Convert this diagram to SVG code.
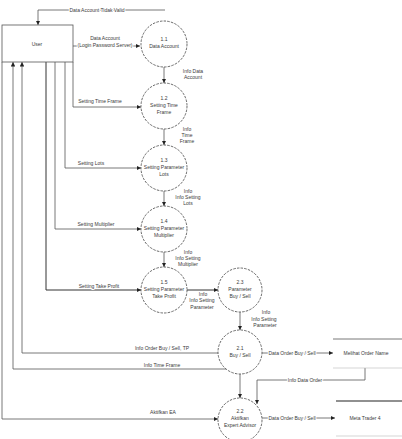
<svg xmlns="http://www.w3.org/2000/svg" width="402" height="439" viewBox="0 0 402 439">
<defs>
<marker id="ah" viewBox="0 0 10 10" refX="10" refY="5" markerWidth="4.5" markerHeight="4.5" orient="auto" markerUnits="userSpaceOnUse">
<path d="M0,0 L10,5 L0,10 z" fill="#222"/>
</marker>
<style>
text{font-family:"Liberation Sans",Arial,sans-serif;fill:#3a3a3a;}
.lbl{font-size:5px;text-anchor:middle;paint-order:stroke;stroke:#fff;stroke-width:2px;stroke-linejoin:round;}
.pt{font-size:5px;text-anchor:middle;}
.proc{fill:#fff;stroke:#444;stroke-width:0.8;stroke-dasharray:2.5 1.2;}
.ln{fill:none;stroke:#555;stroke-width:0.8;}
.st{stroke:#555;stroke-width:0.8;}
</style>
</defs>
<rect width="402" height="439" fill="#fff"/>
<g id="connectors">
<polyline class="ln" points="165,10 38,10 38,25" marker-end="url(#ah)"/>
<line class="ln" x1="73" y1="46" x2="140" y2="46" marker-end="url(#ah)"/>
<polyline class="ln" points="73,62 73,107 141,107" marker-end="url(#ah)"/>
<polyline class="ln" points="65,62 65,168 141,168" marker-end="url(#ah)"/>
<polyline class="ln" points="55,62 55,229 141,229" marker-end="url(#ah)"/>
<polyline class="ln" points="46,62 46,290 141,290" marker-end="url(#ah)" style="stroke:#333;stroke-width:1"/>
<polyline class="ln" points="218,353 22,353 22,62" marker-end="url(#ah)"/>
<polyline class="ln" points="226,369 13,369 13,62" marker-end="url(#ah)"/>
<polyline class="ln" points="2,62 2,419 218,419" marker-end="url(#ah)"/>
<line class="ln" x1="164" y1="67" x2="164" y2="83" marker-end="url(#ah)"/>
<line class="ln" x1="164" y1="129" x2="164" y2="145" marker-end="url(#ah)"/>
<line class="ln" x1="164" y1="191" x2="164" y2="206" marker-end="url(#ah)"/>
<line class="ln" x1="164" y1="252" x2="164" y2="267" marker-end="url(#ah)"/>
<line class="ln" x1="187" y1="290" x2="218" y2="290" marker-end="url(#ah)" style="stroke:#333;stroke-width:1"/>
<line class="ln" x1="240" y1="312" x2="240" y2="330" marker-end="url(#ah)"/>
<line class="ln" x1="240" y1="374" x2="240" y2="398" marker-end="url(#ah)"/>
<line class="ln" x1="262" y1="353" x2="333" y2="353" marker-end="url(#ah)"/>
<polyline class="ln" points="365,368 365,380 257,380 257,404" marker-end="url(#ah)"/>
<line class="ln" x1="262" y1="418" x2="335" y2="418" marker-end="url(#ah)"/>
<text class="lbl" x="97" y="12">Data Account Tidak Valid</text>
<text class="lbl" x="105" y="40">Data Account</text>
<text class="lbl" x="105" y="47">(Login Password Server)</text>
<text class="lbl" x="100" y="103">Setting Time Frame</text>
<text class="lbl" x="91" y="165">Setting Lots</text>
<text class="lbl" x="96" y="226">Setting Multiplier</text>
<text class="lbl" x="99" y="288">Setting Take Profit</text>
<text class="lbl" x="162" y="350">Info Order Buy / Sell, TP</text>
<text class="lbl" x="162" y="367">Info Time Frame</text>
<text class="lbl" x="163" y="414">Aktifkan EA</text>
<text class="lbl" x="193" y="73">Info Data</text>
<text class="lbl" x="193" y="79">Account</text>
<text class="lbl" x="187" y="131">Info</text>
<text class="lbl" x="187" y="137">Time</text>
<text class="lbl" x="187" y="143">Frame</text>
<text class="lbl" x="188" y="193">Info</text>
<text class="lbl" x="188" y="199">Info Setting</text>
<text class="lbl" x="188" y="205">Lots</text>
<text class="lbl" x="188" y="254">Info</text>
<text class="lbl" x="188" y="260">Info Setting</text>
<text class="lbl" x="188" y="266">Multiplier</text>
<text class="lbl" x="203" y="296">Info</text>
<text class="lbl" x="202" y="302">Info Setting</text>
<text class="lbl" x="202" y="309">Parameter</text>
<text class="lbl" x="266" y="314">Info</text>
<text class="lbl" x="264" y="321">Info Setting</text>
<text class="lbl" x="265" y="327">Parameter</text>
<text class="lbl" x="292" y="354.5">Data Order Buy / Sell</text>
<text class="lbl" x="305" y="382">Info Data Order</text>
<text class="lbl" x="292" y="419.5">Data Order Buy / Sell</text>
</g>
<g id="user">
<rect x="2" y="25" width="71" height="37" fill="#fff" stroke="#555" stroke-width="0.8"/>
<text class="pt" x="37" y="46">User</text>
</g>
<g id="p1-1">
<circle class="proc" cx="164" cy="44" r="23"/>
<text class="pt" x="164" y="41">1.1</text>
<text class="pt" x="164" y="48">Data Account</text>
</g>
<g id="p1-2">
<circle class="proc" cx="164" cy="106" r="23"/>
<text class="pt" x="164" y="100">1.2</text>
<text class="pt" x="164" y="107">Setting Time</text>
<text class="pt" x="164" y="114">Frame</text>
</g>
<g id="p1-3">
<circle class="proc" cx="164" cy="168" r="23"/>
<text class="pt" x="164" y="162">1.3</text>
<text class="pt" x="164" y="169">Setting Parameter</text>
<text class="pt" x="164" y="176">Lots</text>
</g>
<g id="p1-4">
<circle class="proc" cx="164" cy="229" r="23"/>
<text class="pt" x="164" y="223">1.4</text>
<text class="pt" x="164" y="230">Setting Parameter</text>
<text class="pt" x="164" y="237">Multiplier</text>
</g>
<g id="p1-5">
<circle class="proc" cx="164" cy="290" r="23"/>
<text class="pt" x="164" y="284">1.5</text>
<text class="pt" x="164" y="291">Setting Parameter</text>
<text class="pt" x="164" y="298">Take Profit</text>
</g>
<g id="p2-3">
<circle class="proc" cx="240" cy="290" r="22"/>
<text class="pt" x="240" y="284">2.3</text>
<text class="pt" x="240" y="291">Parameter</text>
<text class="pt" x="240" y="298">Buy / Sell</text>
</g>
<g id="p2-1">
<circle class="proc" cx="240" cy="352" r="22"/>
<text class="pt" x="240" y="350">2.1</text>
<text class="pt" x="240" y="357">Buy / Sell</text>
</g>
<g id="p2-2">
<circle class="proc" cx="240" cy="420" r="22"/>
<text class="pt" x="240" y="413">2.2</text>
<text class="pt" x="240" y="420">Aktifkan</text>
<text class="pt" x="240" y="427">Expert Advisor</text>
</g>
<g id="store-order">
<line class="st" x1="333" y1="339" x2="402" y2="339"/>
<line x1="333" y1="368" x2="402" y2="368" stroke="#bbb" stroke-width="0.6"/>
<text class="pt" x="366" y="355">Melihat Order Name</text>
</g>
<g id="store-mt4">
<line x1="336" y1="401" x2="402" y2="401" stroke="#222" stroke-width="1.2"/>
<line x1="336" y1="436" x2="402" y2="436" stroke="#bbb" stroke-width="0.6"/>
<text class="pt" x="365" y="420">Meta Trader 4</text>
</g>
</svg>
